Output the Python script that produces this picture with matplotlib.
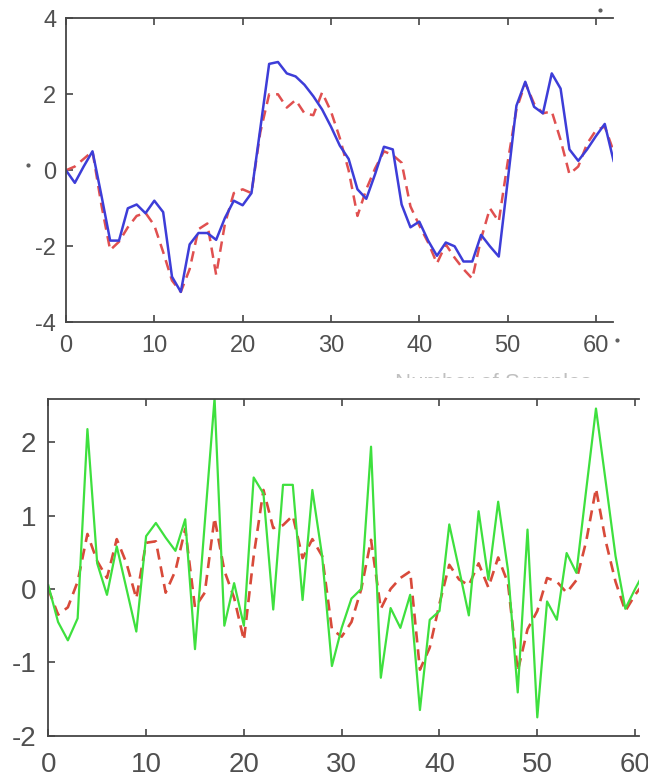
import matplotlib
matplotlib.use("Agg")
import matplotlib.pyplot as plt
from matplotlib.patches import Rectangle
from matplotlib.lines import Line2D

# ---- data ----
top_x = list(range(63))
top_blue = [0.0, -0.33, 0.1, 0.5, -0.65, -1.85, -1.85, -1.0, -0.9, -1.13,
            -0.8, -1.1, -2.8, -3.2, -1.95, -1.65, -1.65, -1.83, -1.25, -0.8,
            -0.92, -0.6, 1.1, 2.8, 2.85, 2.55, 2.47, 2.25, 1.95, 1.6,
            1.15, 0.65, 0.3, -0.5, -0.75, -0.1, 0.62, 0.55, -0.9, -1.5,
            -1.35, -1.85, -2.25, -1.9, -2.0, -2.4, -2.4, -1.7, -2.0, -2.27,
            -0.3, 1.7, 2.33, 1.67, 1.5, 2.55, 2.15, 0.55, 0.25, 0.55,
            0.9, 1.22, 0.25]
top_red = [0.0, 0.1, 0.3, 0.5, -0.9, -2.1, -1.88, -1.5, -1.2, -1.12,
           -1.45, -2.15, -2.9, -3.2, -2.6, -1.55, -1.4, -2.75, -1.4, -0.6,
           -0.5, -0.6, 1.0, 2.0, 2.0, 1.65, 1.85, 1.5, 1.45, 2.05,
           1.55, 0.85, 0.0, -1.2, -0.5, 0.05, 0.5, 0.4, 0.2, -0.95,
           -1.45, -1.9, -2.45, -1.95, -2.3, -2.6, -2.85, -1.8, -1.0, -1.35,
           0.2, 1.6, 2.3, 1.75, 1.5, 1.55, 0.8, -0.1, 0.1, 0.7,
           1.05, 1.15, 0.5]

bot_x = list(range(62))
bot_green = [0.05, -0.45, -0.7, -0.4, 2.18, 0.35, -0.08, 0.58, 0.0, -0.58,
             0.72, 0.9, 0.7, 0.52, 0.95, -0.82, 0.9, 2.6, -0.5, 0.08,
             -0.5, 1.52, 1.3, -0.28, 1.42, 1.42, -0.15, 1.35, 0.45, -1.05,
             -0.53, -0.13, 0.0, 1.94, -1.21, -0.26, -0.53, -0.08, -1.65, -0.42,
             -0.3, 0.88, 0.27, -0.36, 1.06, 0.13, 1.19, 0.26, -1.41, 0.81,
             -1.75, -0.17, -0.42, 0.49, 0.22, 1.35, 2.46, 1.46, 0.45, -0.27,
             0.0, 0.25]
bot_red = [0.0, -0.35, -0.25, 0.1, 0.75, 0.38, 0.15, 0.68, 0.35, -0.13,
           0.63, 0.65, -0.05, 0.25, 0.82, -0.25, -0.05, 0.97, 0.25, -0.12,
           -0.7, 0.45, 1.35, 0.83, 0.87, 1.0, 0.42, 0.68, 0.45, -0.55,
           -0.65, -0.45, 0.0, 0.67, -0.27, 0.0, 0.15, 0.24, -1.1, -0.8,
           -0.2, 0.33, 0.13, 0.05, 0.35, 0.02, 0.43, 0.08, -1.12, -0.55,
           -0.3, 0.15, 0.1, -0.05, 0.12, 0.65, 1.37, 0.65, 0.1, -0.3,
           -0.08, 0.1]

top_yticks = [-4, -2, 0, 2, 4]
bot_yticks = [-2, -1, 0, 1, 2]
xticks = [0, 10, 20, 30, 40, 50, 60]
top_xlabel = 'Number of Samples'

W, H = 648, 784
plt.rcParams['font.family'] = ['Liberation Sans', 'DejaVu Sans']
plt.rcParams['axes.unicode_minus'] = False
fig = plt.figure(figsize=(W / 100, H / 100), dpi=100)

spine_c = '#454545'
lab_c = '#505050'


def style(ax, fs, xpad, ypad):
    for s in ['top', 'left', 'bottom']:
        ax.spines[s].set_color(spine_c)
        ax.spines[s].set_linewidth(1.3)
    ax.spines['right'].set_visible(False)
    ax.tick_params(direction='in', length=5, width=1.2, color=spine_c,
                   labelcolor=lab_c, labelsize=fs, top=True, right=False)
    ax.tick_params(axis='x', pad=xpad)
    ax.tick_params(axis='y', pad=ypad)


# top panel
ax1 = fig.add_axes([66 / W, (H - 322.3) / H, 546.7 / W, 304 / H])
ax1.plot(top_x, top_red, color='#e05050', lw=1.8, ls=(0, (4.2, 2.6)))
ax1.plot(top_x, top_blue, color='#3d3dd8', lw=1.8)
ax1.set_xlim(0, 61.9)
ax1.set_ylim(-4, 4)
ax1.set_xticks(xticks)
ax1.set_yticks(top_yticks)
style(ax1, 17, 9.5, 7)

# bottom panel
ax2 = fig.add_axes([48.3 / W, (H - 735.7) / H, 590.7 / W, 336.7 / H])
ax2.plot(bot_x, bot_red, color='#d84a3a', lw=1.9, ls=(0, (4.2, 2.6)))
ax2.plot(bot_x, bot_green, color='#3ee03e', lw=1.6)
ax2.set_xlim(0, 60.4)
ax2.set_ylim(-2, 2.59)
ax2.set_xticks(xticks)
ax2.set_yticks(bot_yticks)
style(ax2, 20, 12, 8.5)

# cropped x-label of the top panel (only its top edge is visible)
fig.text(493 / W, 1 - 373.5 / H, top_xlabel, ha='center', va='top',
         color='#c0c0c0', fontsize=16, zorder=3)
fig.add_artist(Rectangle((0, (H - 397) / H), 1, (397 - 378) / H,
                         transform=fig.transFigure, facecolor='white',
                         edgecolor='none', zorder=6))

# small stray dots seen in the reference
for (px, py) in [(28, 165), (600, 10), (617, 340)]:
    fig.add_artist(Line2D([px / W], [1 - py / H], marker='o', ms=2,
                          color='#606060', transform=fig.transFigure))

plt.savefig('out.png', dpi=100)
